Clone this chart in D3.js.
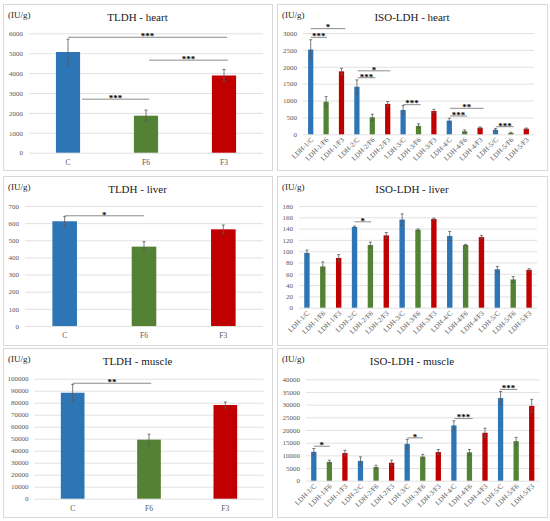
<!DOCTYPE html>
<html>
<head>
<meta charset="utf-8">
<script src="https://cdn.jsdelivr.net/npm/d3@7"></script>
<style>
  body { margin: 0; background: #fff; }
  svg { display: block; font-family: "Liberation Serif", "DejaVu Serif", serif; }
</style>
</head>
<body>
<script>
// groups and isoforms
const groups = ['C', 'F6', 'F3'];
const isoforms = [
  'LDH-1/C', 'LDH-1/F6', 'LDH-1/F3',
  'LDH-2/C', 'LDH-2/F6', 'LDH-2/F3',
  'LDH-3/C', 'LDH-3/F6', 'LDH-3/F3',
  'LDH-4/C', 'LDH-4/F6', 'LDH-4/F3',
  'LDH-5/C', 'LDH-5/F6', 'LDH-5/F3'
];

// values (IU/g) and error bars
const heartTotal = [5060, 1860, 3880];
const heartTotalErr = [640, 280, 300];
const heartIso = [2510, 965, 1865, 1410, 505, 900, 720, 250, 690, 405, 90, 195, 135, 40, 165];
const heartIsoErr = [290, 150, 90, 200, 90, 70, 130, 60, 50, 70, 40, 20, 40, 20, 20];

const liverTotal = [611, 463, 564];
const liverTotalErr = [27, 29, 25];
const liverIso = [97, 73, 88, 143, 111, 128, 156, 138, 157, 127, 111, 125, 68, 50, 67];
const liverIsoErr = [5, 8, 6, 1.5, 5, 5, 10, 1.5, 1.5, 8, 1, 3, 5, 5, 2];

const muscleTotal = [88300, 49200, 78100];
const muscleTotalErr = [7000, 4500, 2500];
const muscleIso = [11400, 7400, 10900, 7800, 5400, 7100, 14500, 9500, 11300, 21800, 11200, 18900, 32600, 15600, 29500];
const muscleIsoErr = [1300, 700, 1100, 1600, 700, 1000, 1800, 900, 1000, 1800, 1100, 1800, 2600, 1500, 2600];

// significance brackets: a/b = bar index, v = level
const heartTotalSig = [
  { a: 0, b: 2.04, v: 5800, t: '***' },
  { a: 1.04, b: 2.05, v: 4650, t: '***' },
  { a: 0.18, b: 1.04, v: 2690, t: '***' }
];
const heartIsoSig = [
  { a: 0, b: 2.25, v: 3130, t: '*' },
  { a: 0, b: 1.06, v: 2870, t: '***' },
  { a: 3.05, b: 5.17, v: 1880, t: '*' },
  { a: 3.05, b: 4.2, v: 1675, t: '***' },
  { a: 6, b: 7.14, v: 877, t: '***' },
  { a: 9.05, b: 11.23, v: 770, t: '**' },
  { a: 9.05, b: 10.16, v: 542, t: '***' },
  { a: 12.05, b: 13.18, v: 225, t: '***' }
];
const liverTotalSig = [{ a: 0, b: 1, v: 643, t: '*' }];
const liverIsoSig = [{ a: 3, b: 4.05, v: 152, t: '*' }];
const muscleTotalSig = [{ a: 0, b: 1.03, v: 96200, t: '**' }];
const muscleIsoSig = [
  { a: 0, b: 1.03, v: 13600, t: '*' },
  { a: 6, b: 7, v: 16900, t: '*' },
  { a: 9.04, b: 10.2, v: 24500, t: '***' },
  { a: 11.96, b: 13.07, v: 36000, t: '***' }
];

const colors = ['#2e75b6', '#548235', '#c00000'];

const panels = [
  { title: 'TLDH - heart', cats: groups, vals: heartTotal, errs: heartTotalErr, sigs: heartTotalSig,
    max: 6000, step: 1000, box: [3, 4, 269, 166], xr: [29, 263], yr: [152.7, 33.3], pad: 0.69 },
  { title: 'ISO-LDH - heart', cats: isoforms, vals: heartIso, errs: heartIsoErr, sigs: heartIsoSig,
    max: 3000, step: 500, box: [277, 4, 270, 166], xr: [303, 534], yr: [134.3, 33], pad: 0.66, rotate: true },
  { title: 'TLDH - liver', cats: groups, vals: liverTotal, errs: liverTotalErr, sigs: liverTotalSig,
    max: 700, step: 100, box: [3, 176, 269, 169], xr: [25, 263], yr: [326, 206], pad: 0.69 },
  { title: 'ISO-LDH - liver', cats: isoforms, vals: liverIso, errs: liverIsoErr, sigs: liverIsoSig,
    max: 180, step: 20, box: [277, 176, 270, 169], xr: [299, 537], yr: [307.7, 206], pad: 0.66, rotate: true },
  { title: 'TLDH - muscle', cats: groups, vals: muscleTotal, errs: muscleTotalErr, sigs: muscleTotalSig,
    max: 100000, step: 10000, box: [3, 348, 269, 169], xr: [34.5, 263.5], yr: [498.7, 378.7], pad: 0.69 },
  { title: 'ISO-LDH - muscle', cats: isoforms, vals: muscleIso, errs: muscleIsoErr, sigs: muscleIsoSig,
    max: 40000, step: 5000, box: [277, 348, 270, 169], xr: [306, 539.5], yr: [480.7, 379.3], pad: 0.66, rotate: true }
];

const svg = d3.select('body').append('svg').attr('width', 550).attr('height', 521);

const drawPanel = p => {
  const g = svg.append('g');
  const [bx, by, bw, bh] = p.box;

  g.append('rect')
    .attr('x', bx + 0.5).attr('y', by + 0.5)
    .attr('width', bw).attr('height', bh)
    .attr('fill', '#fff').attr('stroke', '#d9d9d9');

  const x = d3.scaleBand().domain(p.cats).range(p.xr)
    .paddingInner(p.pad).paddingOuter(p.pad / 2);
  const y = d3.scaleLinear().domain([0, p.max]).range(p.yr);
  const half = x.bandwidth() / 2;
  const xi = d3.scaleLinear()
    .domain([0, p.cats.length - 1])
    .range([x(p.cats[0]) + half, x(p.cats[p.cats.length - 1]) + half]);

  // gridlines + tick labels
  const axis = g.append('g')
    .attr('transform', `translate(${p.xr[0]},0)`)
    .call(d3.axisLeft(y)
      .tickValues(d3.range(0, p.max + p.step / 2, p.step))
      .tickFormat(d3.format('d'))
      .tickSize(-(p.xr[1] - p.xr[0]))
      .tickPadding(6));
  axis.select('.domain').remove();
  axis.selectAll('line').attr('stroke', '#d9d9d9').attr('stroke-width', 0.8);
  axis.selectAll('text')
    .attr('font-family', '"Liberation Serif", serif')
    .attr('font-size', 7).attr('fill', '#595959');

  // bars
  g.selectAll('.bar')
    .data(p.vals)
    .enter()
    .append('rect')
    .attr('class', 'bar')
    .attr('x', (d, i) => x(p.cats[i]))
    .attr('y', d => y(d))
    .attr('width', x.bandwidth())
    .attr('height', d => y(0) - y(d))
    .attr('fill', (d, i) => colors[i % 3]);

  // error bars
  const err = g.selectAll('.err')
    .data(p.vals)
    .enter()
    .append('g')
    .attr('class', 'err')
    .attr('stroke', '#595959')
    .attr('stroke-width', 0.8);
  const cx = i => x(p.cats[i]) + half;
  err.append('line')
    .attr('x1', (d, i) => cx(i)).attr('x2', (d, i) => cx(i))
    .attr('y1', (d, i) => y(d - p.errs[i])).attr('y2', (d, i) => y(d + p.errs[i]));
  err.append('line')
    .attr('x1', (d, i) => cx(i) - 1.5).attr('x2', (d, i) => cx(i) + 1.5)
    .attr('y1', (d, i) => y(d + p.errs[i])).attr('y2', (d, i) => y(d + p.errs[i]));
  err.append('line')
    .attr('x1', (d, i) => cx(i) - 1.5).attr('x2', (d, i) => cx(i) + 1.5)
    .attr('y1', (d, i) => y(d - p.errs[i])).attr('y2', (d, i) => y(d - p.errs[i]));

  // category labels
  if (p.rotate) {
    g.selectAll('.cat')
      .data(p.cats)
      .enter()
      .append('text')
      .attr('class', 'cat')
      .attr('text-anchor', 'end')
      .attr('font-size', 7)
      .attr('fill', '#595959')
      .attr('transform', d => `translate(${x(d) + half + 3},${y(0) + 6}) rotate(-45)`)
      .text(d => d);
  } else {
    g.selectAll('.cat')
      .data(p.cats)
      .enter()
      .append('text')
      .attr('class', 'cat')
      .attr('text-anchor', 'middle')
      .attr('font-size', 7.5)
      .attr('fill', '#595959')
      .attr('x', d => x(d) + half)
      .attr('y', y(0) + 12)
      .text(d => d);
  }

  // significance brackets
  const sig = g.selectAll('.sig')
    .data(p.sigs)
    .enter()
    .append('g')
    .attr('class', 'sig');
  sig.append('line')
    .attr('x1', d => xi(d.a)).attr('x2', d => xi(d.b))
    .attr('y1', d => y(d.v)).attr('y2', d => y(d.v))
    .attr('stroke', '#7f7f7f').attr('stroke-width', 0.9);
  sig.append('text')
    .attr('x', d => (xi(d.a) + xi(d.b)) / 2)
    .attr('y', d => y(d.v) + 1.8)
    .attr('text-anchor', 'middle')
    .attr('font-size', 9)
    .attr('font-weight', 'bold')
    .attr('fill', '#000')
    .text(d => d.t);

  // title and unit
  g.append('text')
    .attr('x', bx + bw / 2).attr('y', by + 17)
    .attr('text-anchor', 'middle')
    .attr('font-size', 11)
    .attr('fill', '#1a1a1a')
    .text(p.title);
  g.append('text')
    .attr('x', bx + 5).attr('y', by + 14)
    .attr('font-size', 9)
    .attr('fill', '#262626')
    .text('(IU/g)');
};

panels.forEach(drawPanel);
</script>
</body>
</html>
